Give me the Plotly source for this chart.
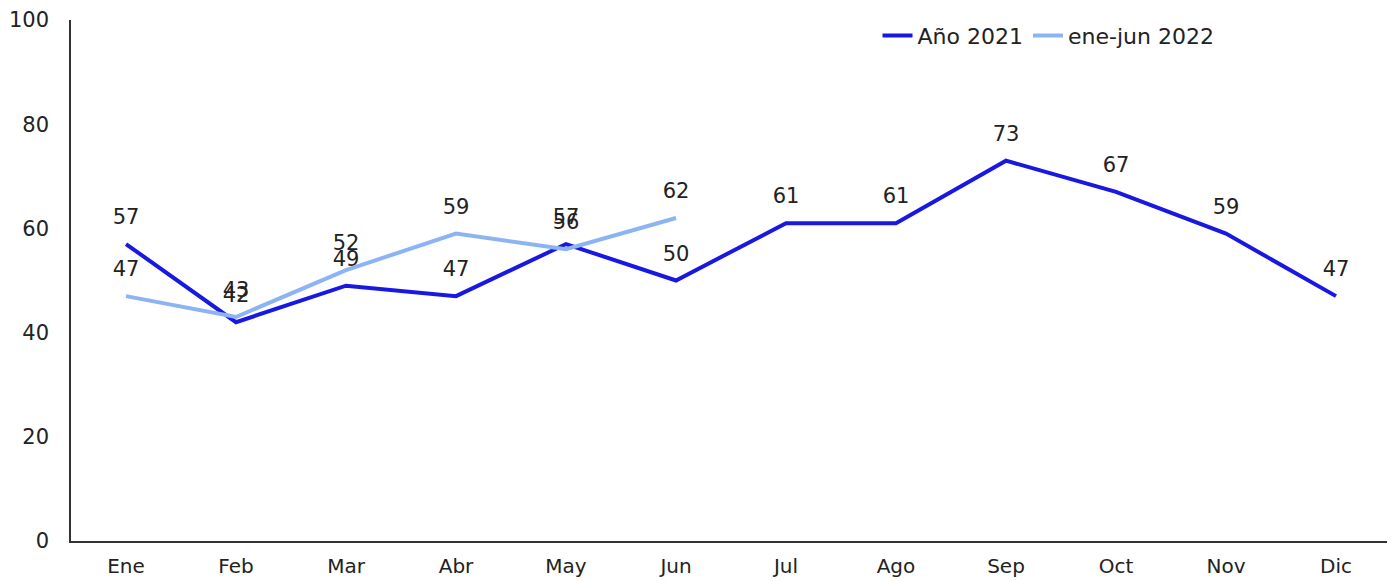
import plotly.graph_objects as go

meses = ["Ene", "Feb", "Mar", "Abr", "May", "Jun", "Jul", "Ago", "Sep", "Oct", "Nov", "Dic"]
anio_2021 = [57, 42, 49, 47, 57, 50, 61, 61, 73, 67, 59, 47]
ene_jun_2022 = [47, 43, 52, 59, 56, 62]

fuente = "'DejaVu Sans', sans-serif"
# marcador invisible: solo sirve para separar las etiquetas de la linea
hueco = dict(size=22, color="rgba(0,0,0,0)")

fig = go.Figure()
fig.add_trace(go.Scatter(
    x=meses, y=anio_2021, name="Año 2021",
    mode="lines+markers+text", text=[str(v) for v in anio_2021],
    textposition="top center", textfont=dict(size=21, color="#222"),
    line=dict(color="#1818E0", width=4), marker=hueco,
))
fig.add_trace(go.Scatter(
    x=meses[:len(ene_jun_2022)], y=ene_jun_2022, name="ene-jun 2022",
    mode="lines+markers+text", text=[str(v) for v in ene_jun_2022],
    textposition="top center", textfont=dict(size=21, color="#222"),
    line=dict(color="#8DB4F2", width=4), marker=hueco,
))

fig.update_layout(
    width=1387, height=573,
    margin=dict(l=63, r=4, t=12, b=40, autoexpand=False),
    paper_bgcolor="white", plot_bgcolor="white",
    font=dict(family=fuente, size=21, color="#222"),
    legend=dict(orientation="h", x=0.611, y=0.97, xanchor="left", yanchor="middle",
                font=dict(size=22), bgcolor="rgba(0,0,0,0)", itemwidth=30),
    xaxis=dict(range=[-0.5, 11.5], showline=True, linecolor="#333", linewidth=1.5,
               showgrid=False, ticks="", ticklabelstandoff=6, tickfont=dict(size=20),
               automargin=False),
    yaxis=dict(range=[0, 100], dtick=20, showline=True, linecolor="#333", linewidth=1.5,
               showgrid=False, zeroline=False, ticks="", ticklabelstandoff=16,
               ticklabeloverflow="allow", automargin=False),
)

fig.write_html("out.html")
